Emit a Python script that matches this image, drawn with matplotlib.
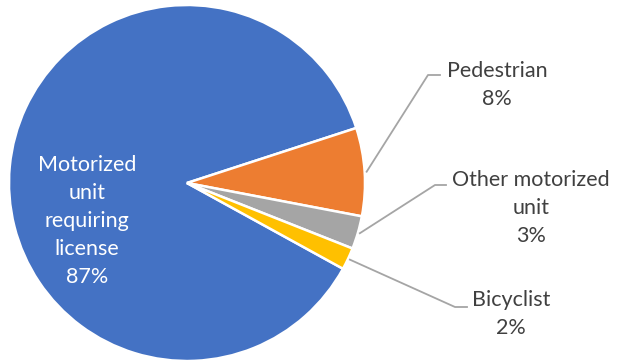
import matplotlib.pyplot as plt
import numpy as np

# Participantes en accidentes por tipo
categories = ["Motorized unit requiring license", "Pedestrian", "Other motorized unit", "Bicyclist"]
label_text = ["Motorized\nunit\nrequiring\nlicense", "Pedestrian", "Other motorized\nunit", "Bicyclist"]
shares = [87, 8, 3, 2]
colors = ["#4472C4", "#ED7D31", "#A5A5A5", "#FFC000"]

plt.rcParams["font.family"] = ["Lato", "DejaVu Sans"]

fig = plt.figure(figsize=(6.18, 3.64), dpi=100)
ax = fig.add_axes([0, 0, 1, 1])

cx, cy, r = 187, 181, 178
wedges, _ = ax.pie(
    shares,
    colors=colors,
    startangle=-28.8,
    counterclock=False,
    center=(cx, cy),
    radius=r,
    wedgeprops=dict(edgecolor="white", linewidth=1.8),
    frame=True,
)
ax.set_xlim(0, 618)
ax.set_ylim(0, 364)
ax.set_aspect("equal")
ax.axis("off")

# Etiqueta interior de la porción principal
ax.text(87, 143, f"{label_text[0]}\n{shares[0]}%", color="white", fontsize=15.5,
        ha="center", va="center", linespacing=1.5)

# Etiquetas exteriores con líneas guía
label_pos = {1: (497, 279), 2: (531, 156), 3: (511, 50)}
elbows = {1: (428, 289, 440), 2: (435, 179, 446), 3: (455, 57, 467)}
for i, (tx, ty) in label_pos.items():
    w = wedges[i]
    mid = np.deg2rad((w.theta1 + w.theta2) / 2)
    sx, sy = cx + (r + 2) * np.cos(mid), cy + (r + 2) * np.sin(mid)
    ex, ey, hx = elbows[i]
    ax.plot([sx, ex, hx], [sy, ey, ey], color="#A5A5A5", linewidth=1.3)
    ax.text(tx, ty, f"{label_text[i]}\n{shares[i]}%", color="#404040", fontsize=15.5,
            ha="center", va="center", linespacing=1.5)

fig.savefig("out.png", dpi=100)
